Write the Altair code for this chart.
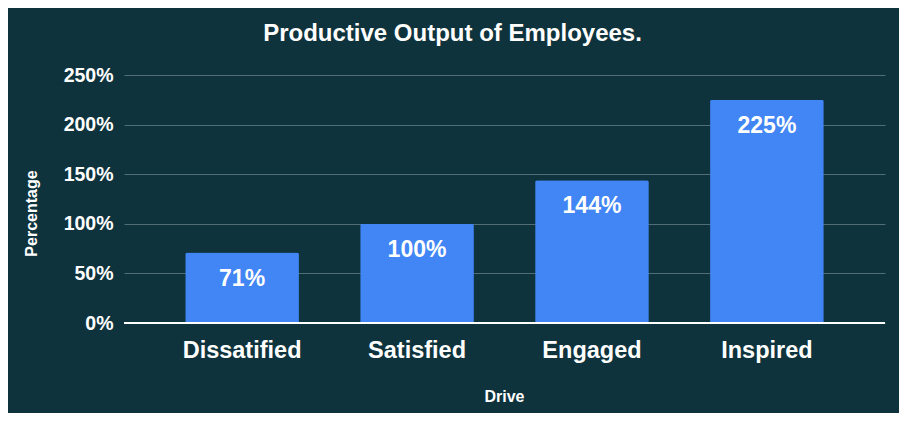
import altair as alt
import pandas as pd

categories = ["Dissatified", "Satisfied", "Engaged", "Inspired"]
values = [0.71, 1.00, 1.44, 2.25]
labels = ["71%", "100%", "144%", "225%"]

df = pd.DataFrame({"Drive": categories, "Percentage": values, "label": labels})

BG = "#0f333d"
BAR = "#4285f4"
FONT = "Liberation Sans"

x = alt.X("Drive:N", sort=categories,
          scale=alt.Scale(paddingInner=0.35, paddingOuter=0.35),
          axis=alt.Axis(title="Drive", labelAngle=0, labelFontSize=23.5, labelFont=FONT,
                        labelFontWeight="bold", labelColor="white", labelPadding=15,
                        ticks=False, domain=False, titleFont=FONT, titleFontSize=16,
                        titleFontWeight="bold", titleColor="white", titleX=380, titleY=65))
y = alt.Y("Percentage:Q", scale=alt.Scale(domain=[0, 2.5], nice=False),
          axis=alt.Axis(title="Percentage", format=".0%", values=[0, 0.5, 1, 1.5, 2, 2.5],
                        labelFontSize=19.5, labelFont=FONT, labelFontWeight="bold",
                        labelColor="white", labelPadding=11, ticks=False, domain=False,
                        gridColor="#4f6e76", gridWidth=1, titleFont=FONT, titleFontSize=16,
                        titleFontWeight="bold", titleColor="white", titleX=-85, titleY=138))

bars = alt.Chart(df).mark_bar(color=BAR, cornerRadiusTopLeft=2, cornerRadiusTopRight=2).encode(x=x, y=y)
text = alt.Chart(df).mark_text(baseline="top", dy=15, color="white", font=FONT,
                               fontSize=23, fontWeight="bold").encode(
    x=alt.X("Drive:N", sort=categories), y="Percentage:Q", text="label:N")
base = alt.Chart(df).mark_rule(color="white", strokeWidth=1.5).encode(y=alt.datum(0))

chart = (bars + base + text).properties(
    width=761, height=248,
    background=BG,
    autosize=alt.AutoSizeParams(type="none"),
    padding={"left": 116, "top": 67, "right": 14, "bottom": 90},
    title=alt.TitleParams("Productive Output of Employees.", font=FONT,
                          fontSize=24, fontWeight="bold", color="white", anchor="middle",
                          dx=-52, offset=19),
).configure_view(stroke=None)

chart.save("out.html", embed_options={"renderer": "svg", "actions": False})
